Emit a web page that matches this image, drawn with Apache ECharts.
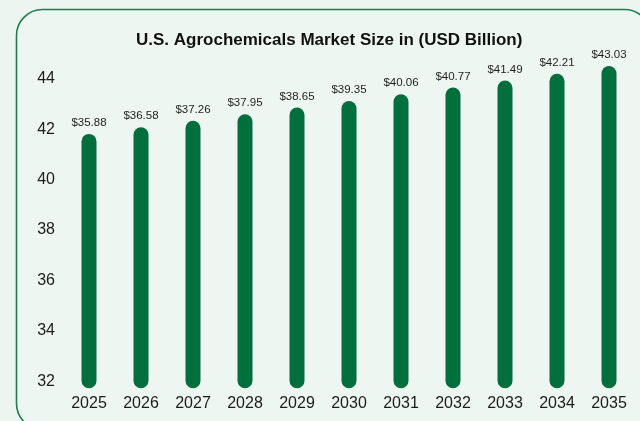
<!DOCTYPE html>
<html>
<head>
<meta charset="utf-8">
<script src="https://cdn.jsdelivr.net/npm/echarts@6/dist/echarts.min.js"></script>
<style>
  html, body { margin: 0; padding: 0; background: #ecf5ef; }
  #chart { width: 640px; height: 421px; }
</style>
</head>
<body>
<div id="chart"></div>
<script>
// Market size by year, USD billion
const years = ['2025', '2026', '2027', '2028', '2029', '2030', '2031', '2032', '2033', '2034', '2035'];
const marketSize = [35.88, 36.58, 37.26, 37.95, 38.65, 39.35, 40.06, 40.77, 41.49, 42.21, 43.03];
const axisTicks = [32, 34, 36, 38, 40, 42, 44];

const chart = echarts.init(document.getElementById('chart'), null, { renderer: 'canvas' });

const green = '#006f3c';
const textColor = '#1c1c1c';

chart.setOption({
  backgroundColor: '#ecf5ef',
  animation: false,
  graphic: [{
    type: 'rect',
    z: -10,
    shape: { x: 16.5, y: 9.5, width: 634, height: 420, r: 26 },
    style: { fill: '#eef6f1', stroke: '#17814a', lineWidth: 1.6 }
  }],
  title: {
    text: 'U.S. Agrochemicals Market Size in (USD Billion)',
    left: 131,
    top: 27,
    textStyle: {
      fontFamily: 'Liberation Sans',
      fontWeight: 'bold',
      fontSize: 17,
      color: '#111'
    }
  },
  grid: { left: 63, right: 5, top: 60, bottom: 32.7 },
  xAxis: {
    type: 'category',
    data: years,
    axisLine: { show: false },
    axisTick: { show: false },
    axisLabel: {
      margin: 7,
      fontFamily: 'Liberation Sans',
      fontSize: 16,
      color: textColor
    }
  },
  yAxis: [{
    // scale shown at the left
    type: 'value',
    min: 31.718,
    max: 44.746,
    splitLine: { show: false },
    axisLine: { show: false },
    axisTick: { show: false },
    axisLabel: {
      customValues: axisTicks,
      margin: 8,
      fontFamily: 'Liberation Sans',
      fontSize: 16,
      color: textColor
    }
  }, {
    // scale the bars are drawn on; bars rise from its lower end
    type: 'value',
    show: false,
    min: 9.1,
    max: 43.66,
    startValue: 9.1,
    splitLine: { show: false }
  }],
  series: [{
    type: 'bar',
    yAxisIndex: 1,
    data: marketSize,
    barWidth: 15,
    clip: false,
    itemStyle: { color: green, borderRadius: 7.5 },
    label: {
      show: true,
      position: 'top',
      distance: 5,
      formatter: p => '$' + p.value.toFixed(2),
      fontFamily: 'Liberation Sans',
      fontSize: 11.5,
      color: '#1e1e1e'
    }
  }]
});
</script>
</body>
</html>
